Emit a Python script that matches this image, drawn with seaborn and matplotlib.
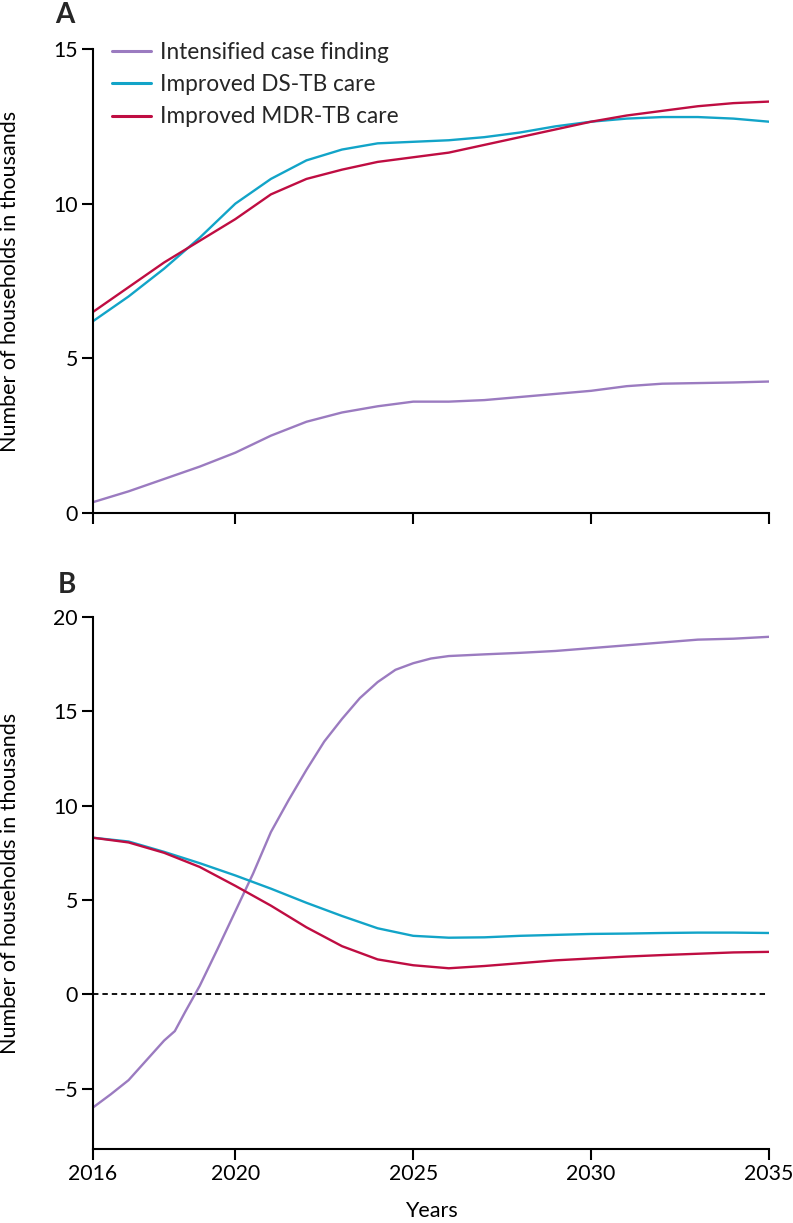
import numpy as np
import pandas as pd
import matplotlib
matplotlib.use("Agg")
import matplotlib.pyplot as plt
import seaborn as sns

sns.set_theme(style="ticks")
plt.rcParams["font.family"] = ["Lato", "DejaVu Sans"]

# series names and colours
strategies = ["Intensified case finding", "Improved DS-TB care", "Improved MDR-TB care"]
colors = ["#9b7bc0", "#12a4c8", "#bf0d42"]

# panel A: households (thousands), yearly
years = list(range(2016, 2036))
a_icf = [0.35, 0.7, 1.1, 1.5, 1.95, 2.5, 2.95, 3.25, 3.45, 3.6,
         3.6, 3.65, 3.75, 3.85, 3.95, 4.1, 4.18, 4.2, 4.22, 4.25]
a_ds = [6.2, 7.0, 7.9, 8.9, 10.0, 10.8, 11.4, 11.75, 11.95, 12.0,
        12.05, 12.15, 12.3, 12.5, 12.65, 12.75, 12.8, 12.8, 12.75, 12.65]
a_mdr = [6.5, 7.3, 8.1, 8.8, 9.5, 10.3, 10.8, 11.1, 11.35, 11.5,
         11.65, 11.9, 12.15, 12.4, 12.65, 12.85, 13.0, 13.15, 13.25, 13.3]

# panel B
b_icf_years = [2016, 2016.5, 2017, 2017.5, 2018, 2018.3, 2018.6, 2019, 2019.5, 2020,
               2020.5, 2021, 2021.5, 2022, 2022.5, 2023, 2023.5, 2024, 2024.5, 2025,
               2025.5, 2026, 2027, 2028, 2029, 2030, 2031, 2032, 2033, 2034, 2035]
b_icf = [-6.0, -5.3, -4.55, -3.5, -2.45, -1.95, -0.9, 0.45, 2.4, 4.4,
         6.4, 8.6, 10.3, 11.9, 13.4, 14.6, 15.7, 16.55, 17.2, 17.55,
         17.8, 17.93, 18.02, 18.1, 18.2, 18.35, 18.5, 18.65, 18.8, 18.85, 18.95]
b_ds = [8.3, 8.1, 7.55, 6.95, 6.3, 5.6, 4.85, 4.15, 3.5, 3.1,
        3.0, 3.02, 3.1, 3.15, 3.2, 3.22, 3.25, 3.27, 3.27, 3.25]
b_mdr = [8.3, 8.05, 7.5, 6.75, 5.75, 4.7, 3.55, 2.55, 1.85, 1.54,
         1.38, 1.5, 1.65, 1.8, 1.9, 2.0, 2.08, 2.15, 2.22, 2.25]

xticks = [2016, 2020, 2025, 2030, 2035]


def make_df(pairs):
    frames = []
    for name, xs, ys in pairs:
        frames.append(pd.DataFrame({"year": xs, "value": ys, "strategy": name}))
    return pd.concat(frames, ignore_index=True)


df_a = make_df([(strategies[0], years, a_icf), (strategies[1], years, a_ds),
                (strategies[2], years, a_mdr)])
df_b = make_df([(strategies[0], b_icf_years, b_icf), (strategies[1], years, b_ds),
                (strategies[2], years, b_mdr)])

W, H = 793, 1223
fig = plt.figure(figsize=(W / 100, H / 100), dpi=100)
left, right = 93 / W, 769 / W
ax_a = fig.add_axes([left, 1 - 513 / H, right - left, (513 - 49) / H])
ax_b = fig.add_axes([left, 1 - 1149 / H, right - left, (1149 - 617) / H])

palette = dict(zip(strategies, colors))
tick_fs, label_fs = 15.3, 15.5

for ax, df in [(ax_a, df_a), (ax_b, df_b)]:
    sns.lineplot(data=df, x="year", y="value", hue="strategy", hue_order=strategies,
                 palette=palette, linewidth=1.7, ax=ax, legend=(ax is ax_a),
                 estimator=None, sort=False)
    ax.set_xlim(2016, 2035)
    ax.set_xticks(xticks)
    for side in ["top", "right"]:
        ax.spines[side].set_visible(False)
    for side in ["left", "bottom"]:
        ax.spines[side].set_linewidth(1.5)
        ax.spines[side].set_color("black")
    ax.tick_params(axis="both", direction="out", length=8, width=1.5,
                   color="black", labelsize=tick_fs, labelcolor="black", pad=3)
    ax.set_ylabel("Number of households in thousands", fontsize=label_fs, color="black")
    ax.yaxis.set_label_coords(-0.108, 0.5)

ax_a.set_ylim(0, 15)
ax_a.set_yticks([0, 5, 10, 15])
ax_a.tick_params(axis="x", labelbottom=False)
ax_a.set_xlabel("")

ax_b.set_ylim(-8.2, 20)
ax_b.set_yticks([-5, 0, 5, 10, 15, 20])
ax_b.set_yticklabels(["\u22125", "0", "5", "10", "15", "20"])
ax_b.axhline(0, color="black", linewidth=1.3, linestyle=(0, (3, 2.2)), zorder=1)
ax_b.set_xlabel("Years", fontsize=label_fs, color="black", labelpad=12)

leg = ax_a.legend(loc="upper left", bbox_to_anchor=(0.015, 1.035), frameon=False,
                  fontsize=16.3, handlelength=1.7, handletextpad=0.4, labelspacing=0.5,
                  borderaxespad=0)
for line in leg.get_lines():
    line.set_linewidth(2.2)

fig.text(65 / W, 1 - 15 / H, "A", fontsize=20, fontweight="bold", ha="center", va="center")
fig.text(67 / W, 1 - 585 / H, "B", fontsize=20, fontweight="bold", ha="center", va="center")

fig.savefig("out.png", dpi=100)
